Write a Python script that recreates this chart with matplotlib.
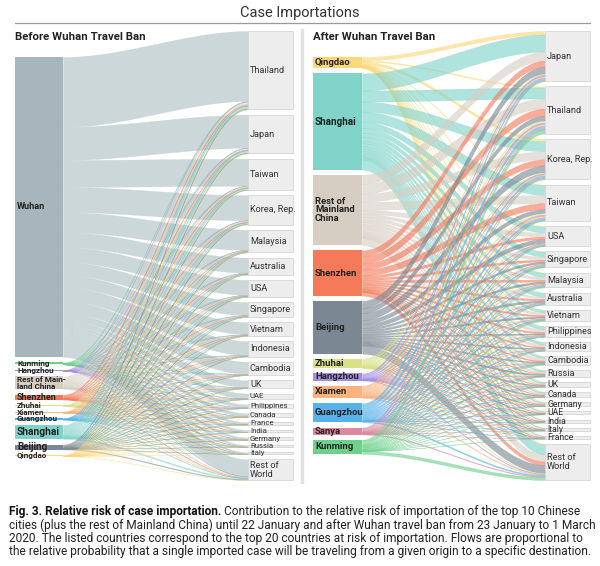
import numpy as np
import matplotlib.pyplot as plt

plt.rcParams['font.family'] = ['Liberation Sans Narrow', 'Roboto', 'DejaVu Sans']

# ---- data: before the travel ban ----
src_before = ["Wuhan", "Kunming", "Hangzhou", "Rest of Main-\nland China", "Shenzhen", "Zhuhai",
              "Xiamen", "Guangzhou", "Shanghai", "Beijing", "Qingdao"]
src_before_colors = ["#a7b6bc", "#6fd08c", "#a58fe0", "#d6cec2", "#f47a5a", "#d8e18a",
                     "#fbb27c", "#58b2ea", "#7fd3c8", "#7b8893", "#fdd877"]
dst_before = ["Thailand", "Japan", "Taiwan", "Korea, Rep.", "Malaysia", "Australia", "USA",
              "Singapore", "Vietnam", "Indonesia", "Cambodia", "UK", "UAE", "Philippines",
              "Canada", "France", "India", "Germany", "Russia", "Italy", "Rest of\nWorld"]
flows_before = np.array([
    [70, 33, 27, 25, 20, 15, 15, 13, 12, 14, 12, 7, 5, 3, 3, 2, 2, 2, 1.5, 1.5, 17],
    [0.6, 0.1, 0.1, 0.1, 0.15, 0.05, 0.05, 0.1, 0.2, 0.05, 0.3, 0.02, 0.02, 0.02, 0.02, 0.02, 0.02, 0.02, 0.02, 0.02, 0.1],
    [0.2, 0.15, 0.1, 0.1, 0.05, 0.05, 0.05, 0.05, 0.03, 0.03, 0.02, 0.02, 0.02, 0.01, 0.01, 0.01, 0.01, 0.01, 0.01, 0.01, 0.06],
    [2.5, 1.5, 1.2, 1.2, 0.8, 0.6, 0.6, 0.5, 0.5, 0.5, 0.4, 0.3, 0.2, 0.2, 0.2, 0.1, 0.1, 0.1, 0.1, 0.1, 0.9],
    [1.0, 0.6, 0.6, 0.5, 0.3, 0.2, 0.2, 0.2, 0.2, 0.2, 0.1, 0.1, 0.1, 0.1, 0.05, 0.05, 0.05, 0.05, 0.02, 0.02, 0.4],
    [0.2, 0.1, 0.15, 0.1, 0.05, 0.03, 0.03, 0.05, 0.05, 0.03, 0.03, 0.01, 0.01, 0.01, 0.01, 0.01, 0.01, 0.01, 0.01, 0.01, 0.06],
    [0.2, 0.1, 0.15, 0.08, 0.08, 0.03, 0.03, 0.06, 0.04, 0.04, 0.03, 0.01, 0.01, 0.01, 0.01, 0.01, 0.01, 0.01, 0.01, 0.01, 0.06],
    [0.3, 0.15, 0.15, 0.1, 0.12, 0.06, 0.06, 0.08, 0.08, 0.06, 0.04, 0.02, 0.02, 0.02, 0.02, 0.02, 0.02, 0.02, 0.02, 0.02, 0.1],
    [2.5, 2.2, 1.5, 1.3, 0.8, 0.7, 0.7, 0.6, 0.4, 0.4, 0.3, 0.3, 0.2, 0.2, 0.2, 0.1, 0.1, 0.1, 0.1, 0.1, 1.2],
    [0.8, 0.6, 0.3, 0.6, 0.2, 0.2, 0.4, 0.15, 0.1, 0.1, 0.1, 0.15, 0.1, 0.05, 0.1, 0.05, 0.05, 0.05, 0.1, 0.05, 0.7],
    [0.2, 0.25, 0.05, 0.2, 0.03, 0.02, 0.03, 0.02, 0.02, 0.02, 0.01, 0.01, 0.01, 0.01, 0.01, 0.01, 0.01, 0.01, 0.01, 0.01, 0.06],
])

# ---- data: after the travel ban ----
src_after = ["Qingdao", "Shanghai", "Rest of\nMainland\nChina", "Shenzhen", "Beijing", "Zhuhai",
             "Hangzhou", "Xiamen", "Guangzhou", "Sanya", "Kunming"]
src_after_colors = ["#fdd877", "#7fd3c8", "#d6cec2", "#f47a5a", "#7b8893", "#d8e18a",
                    "#a58fe0", "#fbb27c", "#58b2ea", "#d98aa0", "#6fd08c"]
dst_after = ["Japan", "Thailand", "Korea, Rep.", "Taiwan", "USA", "Singapore", "Malaysia",
             "Australia", "Vietnam", "Philippines", "Indonesia", "Cambodia", "Russia", "UK",
             "Canada", "Germany", "UAE", "India", "Italy", "France", "Rest of\nWorld"]
flows_after = np.array([
    [3.5, 1, 2.5, 0.5, 0.5, 0.3, 0.2, 0.2, 0.2, 0.2, 0.1, 0.1, 0.3, 0.2, 0.2, 0.2, 0.1, 0.1, 0.1, 0.1, 0.6],
    [17, 11, 10, 10, 6, 5, 4, 4, 2.5, 3, 2.5, 2, 1.5, 1.5, 1.5, 1.2, 0.8, 0.7, 0.8, 0.8, 10],
    [9, 10, 8, 8, 4, 3, 3, 2, 2.5, 2.5, 2, 2.5, 1.5, 1, 1, 0.8, 0.6, 0.6, 0.6, 0.6, 7],
    [6, 7, 6, 6, 2.5, 2, 2, 1.5, 1.5, 1.5, 1.2, 1, 0.5, 0.6, 0.6, 0.4, 0.4, 0.3, 0.3, 0.3, 3.5],
    [7, 5, 7, 4, 4, 2, 2, 2, 1.5, 1.2, 1.2, 1, 1.5, 1, 1, 0.8, 0.6, 0.6, 0.6, 0.6, 8],
    [1, 2, 1, 1.5, 0.3, 0.4, 0.5, 0.2, 0.3, 0.3, 0.2, 0.2, 0.1, 0.1, 0.1, 0.1, 0.1, 0.1, 0.05, 0.05, 0.7],
    [1.5, 1.2, 1, 1, 0.4, 0.3, 0.2, 0.2, 0.1, 0.1, 0.1, 0.1, 0.05, 0.05, 0.05, 0.05, 0.05, 0.05, 0.05, 0.05, 0.5],
    [1.5, 2, 1.2, 2, 0.6, 0.8, 0.7, 0.3, 0.4, 0.5, 0.4, 0.3, 0.1, 0.1, 0.1, 0.1, 0.1, 0.1, 0.1, 0.1, 0.8],
    [2, 3, 2, 2, 1, 1.2, 1.2, 1, 1, 0.8, 0.6, 0.6, 0.2, 0.2, 0.2, 0.1, 0.3, 0.2, 0.1, 0.1, 1.2],
    [0.8, 1.2, 1, 0.6, 0.3, 0.3, 0.3, 0.2, 0.2, 0.2, 0.1, 0.1, 0.5, 0.1, 0.1, 0.1, 0.05, 0.05, 0.05, 0.05, 0.7],
    [0.8, 3.5, 0.8, 0.6, 0.4, 0.6, 0.8, 0.3, 1, 0.3, 0.3, 1, 0.1, 0.1, 0.1, 0.1, 0.1, 0.1, 0.1, 0.1, 3],
])

caption_bold = "Fig. 3. Relative risk of case importation."
caption_lines = [
    " Contribution to the relative risk of importation of the top 10 Chinese",
    "cities (plus the rest of Mainland China) until 22 January and after Wuhan travel ban from 23 January to 1 March",
    "2020. The listed countries correspond to the top 20 countries at risk of importation. Flows are proportional to",
    "the relative probability that a single imported case will be traveling from a given origin to a specific destination.",
]


def stack(sizes, top, gap, scale):
    y0 = []
    y = top
    for s in sizes:
        y0.append(y)
        y += s * scale + gap
    return np.array(y0)


def draw_sankey(ax, flows, src_names, src_colors, dst_names, sx, sw, dx, dw,
                stop, sbot, dtop, dbot, src_gap, flow_colors, flow_alpha, src_fs, big_fs,
                small_fs):
    src_tot = flows.sum(axis=1)
    dst_tot = flows.sum(axis=0)
    scale = (sbot - stop - src_gap * (len(src_tot) - 1)) / src_tot.sum()
    dst_gap = (dbot - dtop - dst_tot.sum() * scale) / (len(dst_tot) - 1)
    sy = stack(src_tot, stop, src_gap, scale)
    dy = stack(dst_tot, dtop, dst_gap, scale)

    t = np.linspace(0, 1, 80)
    ease = t * t * (3 - 2 * t)
    xs = sx + sw + (dx - sx - sw) * t
    s_off = sy.copy()
    d_off = dy.copy()
    for i in range(flows.shape[0]):
        for j in range(flows.shape[1]):
            h = flows[i, j] * scale
            a0, b0 = s_off[i], d_off[j]
            top = a0 + (b0 - a0) * ease
            ax.fill_between(xs, top, top + h, color=flow_colors[i], alpha=flow_alpha[i],
                            lw=0.25, zorder=2)
            s_off[i] += h
            d_off[j] += h

    for i, name in enumerate(src_names):
        h = src_tot[i] * scale
        ax.add_patch(plt.Rectangle((sx, sy[i]), sw, h, facecolor=src_colors[i],
                                   edgecolor="none", zorder=3))
        fs = big_fs.get(name, src_fs)
        ax.text(sx + 2, sy[i] + h / 2, name, fontsize=fs, fontweight="bold",
                color="#222222", va="center", ha="left", zorder=5, linespacing=0.95)

    for j, name in enumerate(dst_names):
        h = dst_tot[j] * scale
        ax.add_patch(plt.Rectangle((dx, dy[j]), dw, h, facecolor="#eeeded",
                                   edgecolor="#d6d6d6", lw=0.6, zorder=3))
        fs = 6.6 if h > 6 else small_fs
        ax.text(dx + 2, dy[j] + h / 2, name, fontsize=fs, color="#333333",
                va="center", ha="left", zorder=5, linespacing=0.95)


fig = plt.figure(figsize=(6.0, 5.66), dpi=100)
ax = fig.add_axes([0, 0, 1, 1])
ax.set_xlim(0, 600)
ax.set_ylim(566, 0)
ax.axis("off")

ax.text(300, 13, "Case Importations", fontsize=10.5, color="#333333", ha="center", va="center")
ax.plot([15, 590], [23, 23], color="#9a9a9a", lw=0.9)
ax.plot([302, 302], [30, 482], color="#e2e2e2", lw=2.5)

ax.text(15, 37, "Before Wuhan Travel Ban", fontsize=8.2, fontweight="bold", color="#222222",
        va="center")
ax.text(313, 37, "After Wuhan Travel Ban", fontsize=8.2, fontweight="bold", color="#222222",
        va="center")

before_flow_colors = ["#c6d3d5"] + src_before_colors[1:]
before_alpha = [0.9] + [0.55] * 10
draw_sankey(ax, flows_before, src_before, src_before_colors, dst_before,
            15, 48, 248, 45, 57, 456, 31, 480, 5.5, before_flow_colors, before_alpha,
            5.9, {"Wuhan": 6.6, "Shanghai": 7.4, "Beijing": 7.0, "Shenzhen": 6.4}, 5.6)
draw_sankey(ax, flows_after, src_after, src_after_colors, dst_after,
            313, 49, 545, 45, 57, 454, 31, 480, 5.2, src_after_colors, [0.62] * 11,
            6.8, {"Shanghai": 7.2}, 6.2)

# caption
cap_fs = 8.6
tb = ax.text(9, 512, caption_bold, fontsize=cap_fs, fontweight="bold", color="#111111",
             va="center", ha="left")
fig.canvas.draw()
bb = tb.get_window_extent(fig.canvas.get_renderer())
x_after = ax.transData.inverted().transform((bb.x1, bb.y0))[0]
ax.text(x_after, 512, caption_lines[0], fontsize=cap_fs, color="#222222", va="center", ha="left")
for k, line in enumerate(caption_lines[1:]):
    ax.text(9, 525.5 + 13.2 * k, line, fontsize=cap_fs, color="#222222", va="center", ha="left")

fig.savefig("out.png", dpi=100)
